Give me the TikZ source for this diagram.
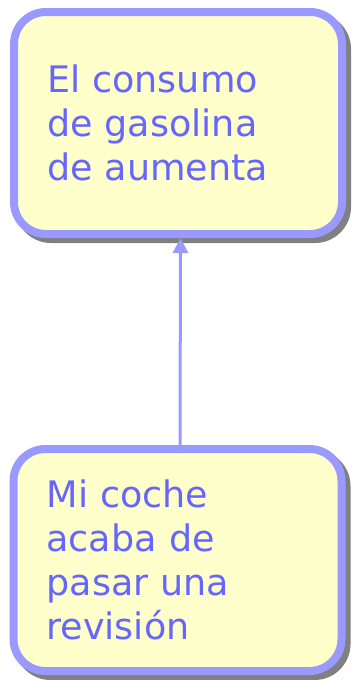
\documentclass[tikz,border=0pt]{standalone}
\usepackage{fontspec}
\setmainfont{DejaVu Sans}
\usepackage{tikz}
\usetikzlibrary{arrows.meta,shadows}
\definecolor{boxline}{HTML}{9999FF}
\definecolor{boxfill}{HTML}{FFFFCC}
\definecolor{boxtext}{HTML}{6666FF}

\tikzset{
    notebox/.style={draw=boxline, fill=boxfill, line width=8pt, rounded corners=32pt,
        minimum width=328pt, minimum height=222pt, text width=262pt, align=left,
        inner sep=0pt, text=boxtext,
        font=\fontsize{36.5pt}{44pt}\selectfont,
        drop shadow={shadow xshift=5pt, shadow yshift=-5pt, fill=gray, draw=gray,
            line width=8pt, opacity=1}},
    link/.style={boxline, line width=3pt, -{Triangle[length=15pt,width=15pt]}}
}

\begin{document}
\begin{tikzpicture}[x=1pt,y=1pt]
    \useasboundingbox (0,0) rectangle (351,-680);

    % the two boxes
    \node[notebox] (consumo) at (178,-123) {El consumo\\de gasolina\\de aumenta};
    \node[notebox] (revision) at (177.5,-560) {Mi coche\\acaba de\\pasar una\\revisión};

    % connector
    \draw[link] ([xshift=2.5pt]revision.north) -- ([xshift=2.5pt]consumo.south);
\end{tikzpicture}
\end{document}
